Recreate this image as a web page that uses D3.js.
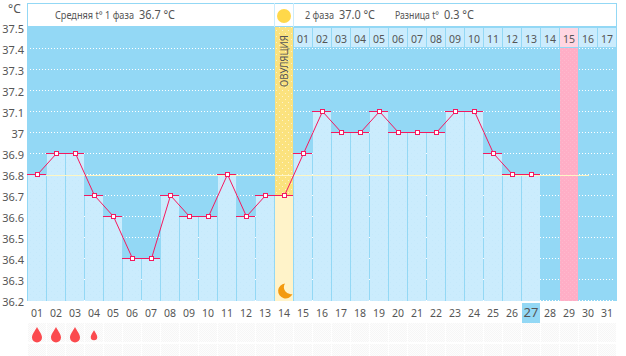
<!DOCTYPE html>
<html><head><meta charset="utf-8">
<script src="https://cdnjs.cloudflare.com/ajax/libs/d3/7.8.5/d3.min.js"></script>
<style>html,body{margin:0;padding:0;background:#fff}svg{display:block}text{font-family:"Noto Sans",sans-serif;fill:#555}</style>
</head><body><svg id="c" width="626" height="356"></svg>
<script>
const days = d3.range(1,32).map(d=>String(d).padStart(2,"0"));
const temps = [36.8,36.9,36.9,36.7,36.6,36.4,36.4,36.7,36.6,36.6,36.8,36.6,36.7,36.7,36.9,37.1,37.0,37.0,37.1,37.0,37.0,37.0,37.1,37.1,36.9,36.8,36.8];
const yTicks = [37.5,37.4,37.3,37.2,37.1,37,36.9,36.8,36.7,36.6,36.5,36.4,36.3,36.2];
const phase2Labels = d3.range(1,18).map(d=>String(d).padStart(2,"0"));
const flow = [1,1,1,0.65];
const ovulationDay = "14", peakDay = "29", todayDay = "27", coverline = 36.8;

const svg = d3.select("#c");
const x = d3.scaleBand().domain(days).range([28,617]);
const y = d3.scaleLinear().domain([36.2,37.5]).rangeRound([300,27]);
const cw = x.step()-1;
const cx = d=>x(d)+9;
const BG="#93d8f5", BAR="#cbecfd", PINK="#f5195f";

const defs = svg.append("defs");
function pat(id,bg,dot,op,s){
  const p=defs.append("pattern").attr("id",id).attr("width",s).attr("height",s).attr("patternUnits","userSpaceOnUse");
  p.append("rect").attr("width",s).attr("height",s).attr("fill",bg);
  [[0,0],[s/2,s/2]].forEach(q=>p.append("rect").attr("x",q[0]).attr("y",q[1]).attr("width",1).attr("height",1).attr("fill",dot).attr("opacity",op));
}
pat("py","#fbe27e","#fff",0.6,6);
pat("pp","#ffaec6","#fff",0.12,4);
pat("pg","#fdfdfd","#f6f6f6",1,2);
pat("pb",BAR,"#bfe6fa",0.5,6);

// plot background
svg.append("rect").attr("x",27).attr("y",27).attr("width",590).attr("height",274).attr("fill",BG);

// grid
svg.append("g").selectAll("line").data(yTicks.slice(1)).join("line")
  .attr("x1",30).attr("x2",615).attr("y1",d=>y(d)+.5).attr("y2",d=>y(d)+.5)
  .attr("stroke","#fff").attr("stroke-dasharray","1 2");

// header
svg.append("rect").attr("x",27.5).attr("y",3.5).attr("width",589).attr("height",23).attr("fill","#fff").attr("stroke",BG);
svg.append("line").attr("x1",274.5).attr("x2",274.5).attr("y1",3).attr("y2",27).attr("stroke",BAR);
svg.append("line").attr("x1",293.5).attr("x2",293.5).attr("y1",3).attr("y2",27).attr("stroke",BAR);
[["Средняя t° 1 фаза",55,10,79],["36.7 °C",139,12,36],["2 фаза",305,10,29],["37.0 °C",339,12,36],["Разница t°",395,10,44],["0.3 °C",444,12,30]]
 .forEach(t=>svg.append("text").attr("x",t[1]).attr("y",19).attr("font-size",t[2]).attr("textLength",t[3]).attr("lengthAdjust","spacingAndGlyphs").text(t[0]));

// phase-2 header cells
const p2days = days.slice(14);
svg.append("g").selectAll("rect").data(p2days).join("rect")
  .attr("x",d=>x(d)).attr("y",28).attr("width",cw).attr("height",19)
  .attr("fill",d=>d===peakDay?"#ffd6e2":BAR);
svg.append("g").selectAll("text").data(p2days).join("text")
  .attr("x",cx).attr("y",43).attr("text-anchor","middle").attr("font-size",10.5)
  .text((d,i)=>phase2Labels[i]);

// peak column
svg.append("rect").attr("x",x(peakDay)).attr("y",48).attr("width",cw).attr("height",253).attr("fill","url(#pp)");

// bars
svg.append("g").selectAll("rect").data(temps).join("rect")
  .attr("x",(d,i)=>x(days[i])).attr("y",d=>y(d)).attr("width",cw).attr("height",d=>300-y(d)+1)
  .attr("fill","url(#pb)");

// ovulation column
const ov=temps[days.indexOf(ovulationDay)];
svg.append("rect").attr("x",x(ovulationDay)).attr("y",27).attr("width",cw).attr("height",y(ov)-27).attr("fill","url(#py)");
svg.append("rect").attr("x",x(ovulationDay)).attr("y",y(ov)).attr("width",cw).attr("height",301-y(ov)).attr("fill","#fff3c9");
svg.append("text").attr("transform",`translate(${cx(ovulationDay)+4},87) rotate(-90)`).attr("font-size",10).attr("textLength",52).attr("lengthAdjust","spacingAndGlyphs").text("ОВУЛЯЦИЯ");
svg.append("circle").attr("cx",284).attr("cy",16).attr("r",7).attr("fill","#ffd84a");
svg.append("path").attr("fill","#f39a10").attr("d","M285 283.5 A7.5 7.5 0 1 0 292.5 294 A7 7 0 0 1 285 283.5Z");

// coverline
svg.append("line").attr("x1",46).attr("x2",589).attr("y1",y(coverline)+1.5).attr("y2",y(coverline)+1.5).attr("stroke","#fdf6c4");

// left edge
svg.append("line").attr("x1",27.5).attr("x2",27.5).attr("y1",27).attr("y2",301).attr("stroke",BG);

// temperature line
const line=d3.line().x((d,i)=>cx(days[i])+.5).y(d=>y(d)+.5);
svg.append("path").datum(temps).attr("d",line).attr("fill","none").attr("stroke",PINK).attr("stroke-width",1);
svg.append("g").selectAll("line").data(temps).join("line")
  .attr("x1",(d,i)=>x(days[i])-1).attr("x2",(d,i)=>x(days[i])+cw).attr("y1",d=>y(d)+.5).attr("y2",d=>y(d)+.5)
  .attr("stroke",PINK);
svg.append("g").selectAll("rect").data(temps).join("rect")
  .attr("x",(d,i)=>cx(days[i])-1.5).attr("y",d=>y(d)-1.5).attr("width",4).attr("height",4)
  .attr("fill","#fff").attr("stroke",PINK).attr("stroke-width",1);

// y labels
svg.append("g").selectAll("text").data(yTicks).join("text")
  .attr("x",24).attr("y",d=>y(d)+6).attr("text-anchor","end").attr("font-size",11).text(d=>d3.format(".1f")(d).replace(/\.0$/,""));
svg.append("text").attr("x",8).attr("y",13).attr("font-size",12).text("°C");

// bottom day labels
svg.append("rect").attr("x",x(todayDay)).attr("y",303).attr("width",cw).attr("height",20).attr("fill",BG);
svg.append("g").selectAll("text").data(days).join("text")
  .attr("x",cx).attr("y",317).attr("text-anchor","middle")
  .attr("font-size",d=>d===todayDay?13:10.5).text(d=>d);

// lower rows
[323,344].forEach((ry,k)=>svg.append("g").selectAll("rect").data(days).join("rect")
  .attr("x",x).attr("y",ry).attr("width",cw).attr("height",k?12:19).attr("fill","url(#pg)"));

// flow drops
svg.append("g").selectAll("path").data(flow).join("path")
  .attr("transform",(d,i)=>`translate(${cx(days[i])},336) scale(${d})`)
  .attr("fill","#fb4a4e")
  .attr("d","M0 -9 C2 -5 5 -2 5 1.5 A5 5 0 0 1 -5 1.5 C-5 -2 -2 -5 0 -9Z");
</script></body></html>
